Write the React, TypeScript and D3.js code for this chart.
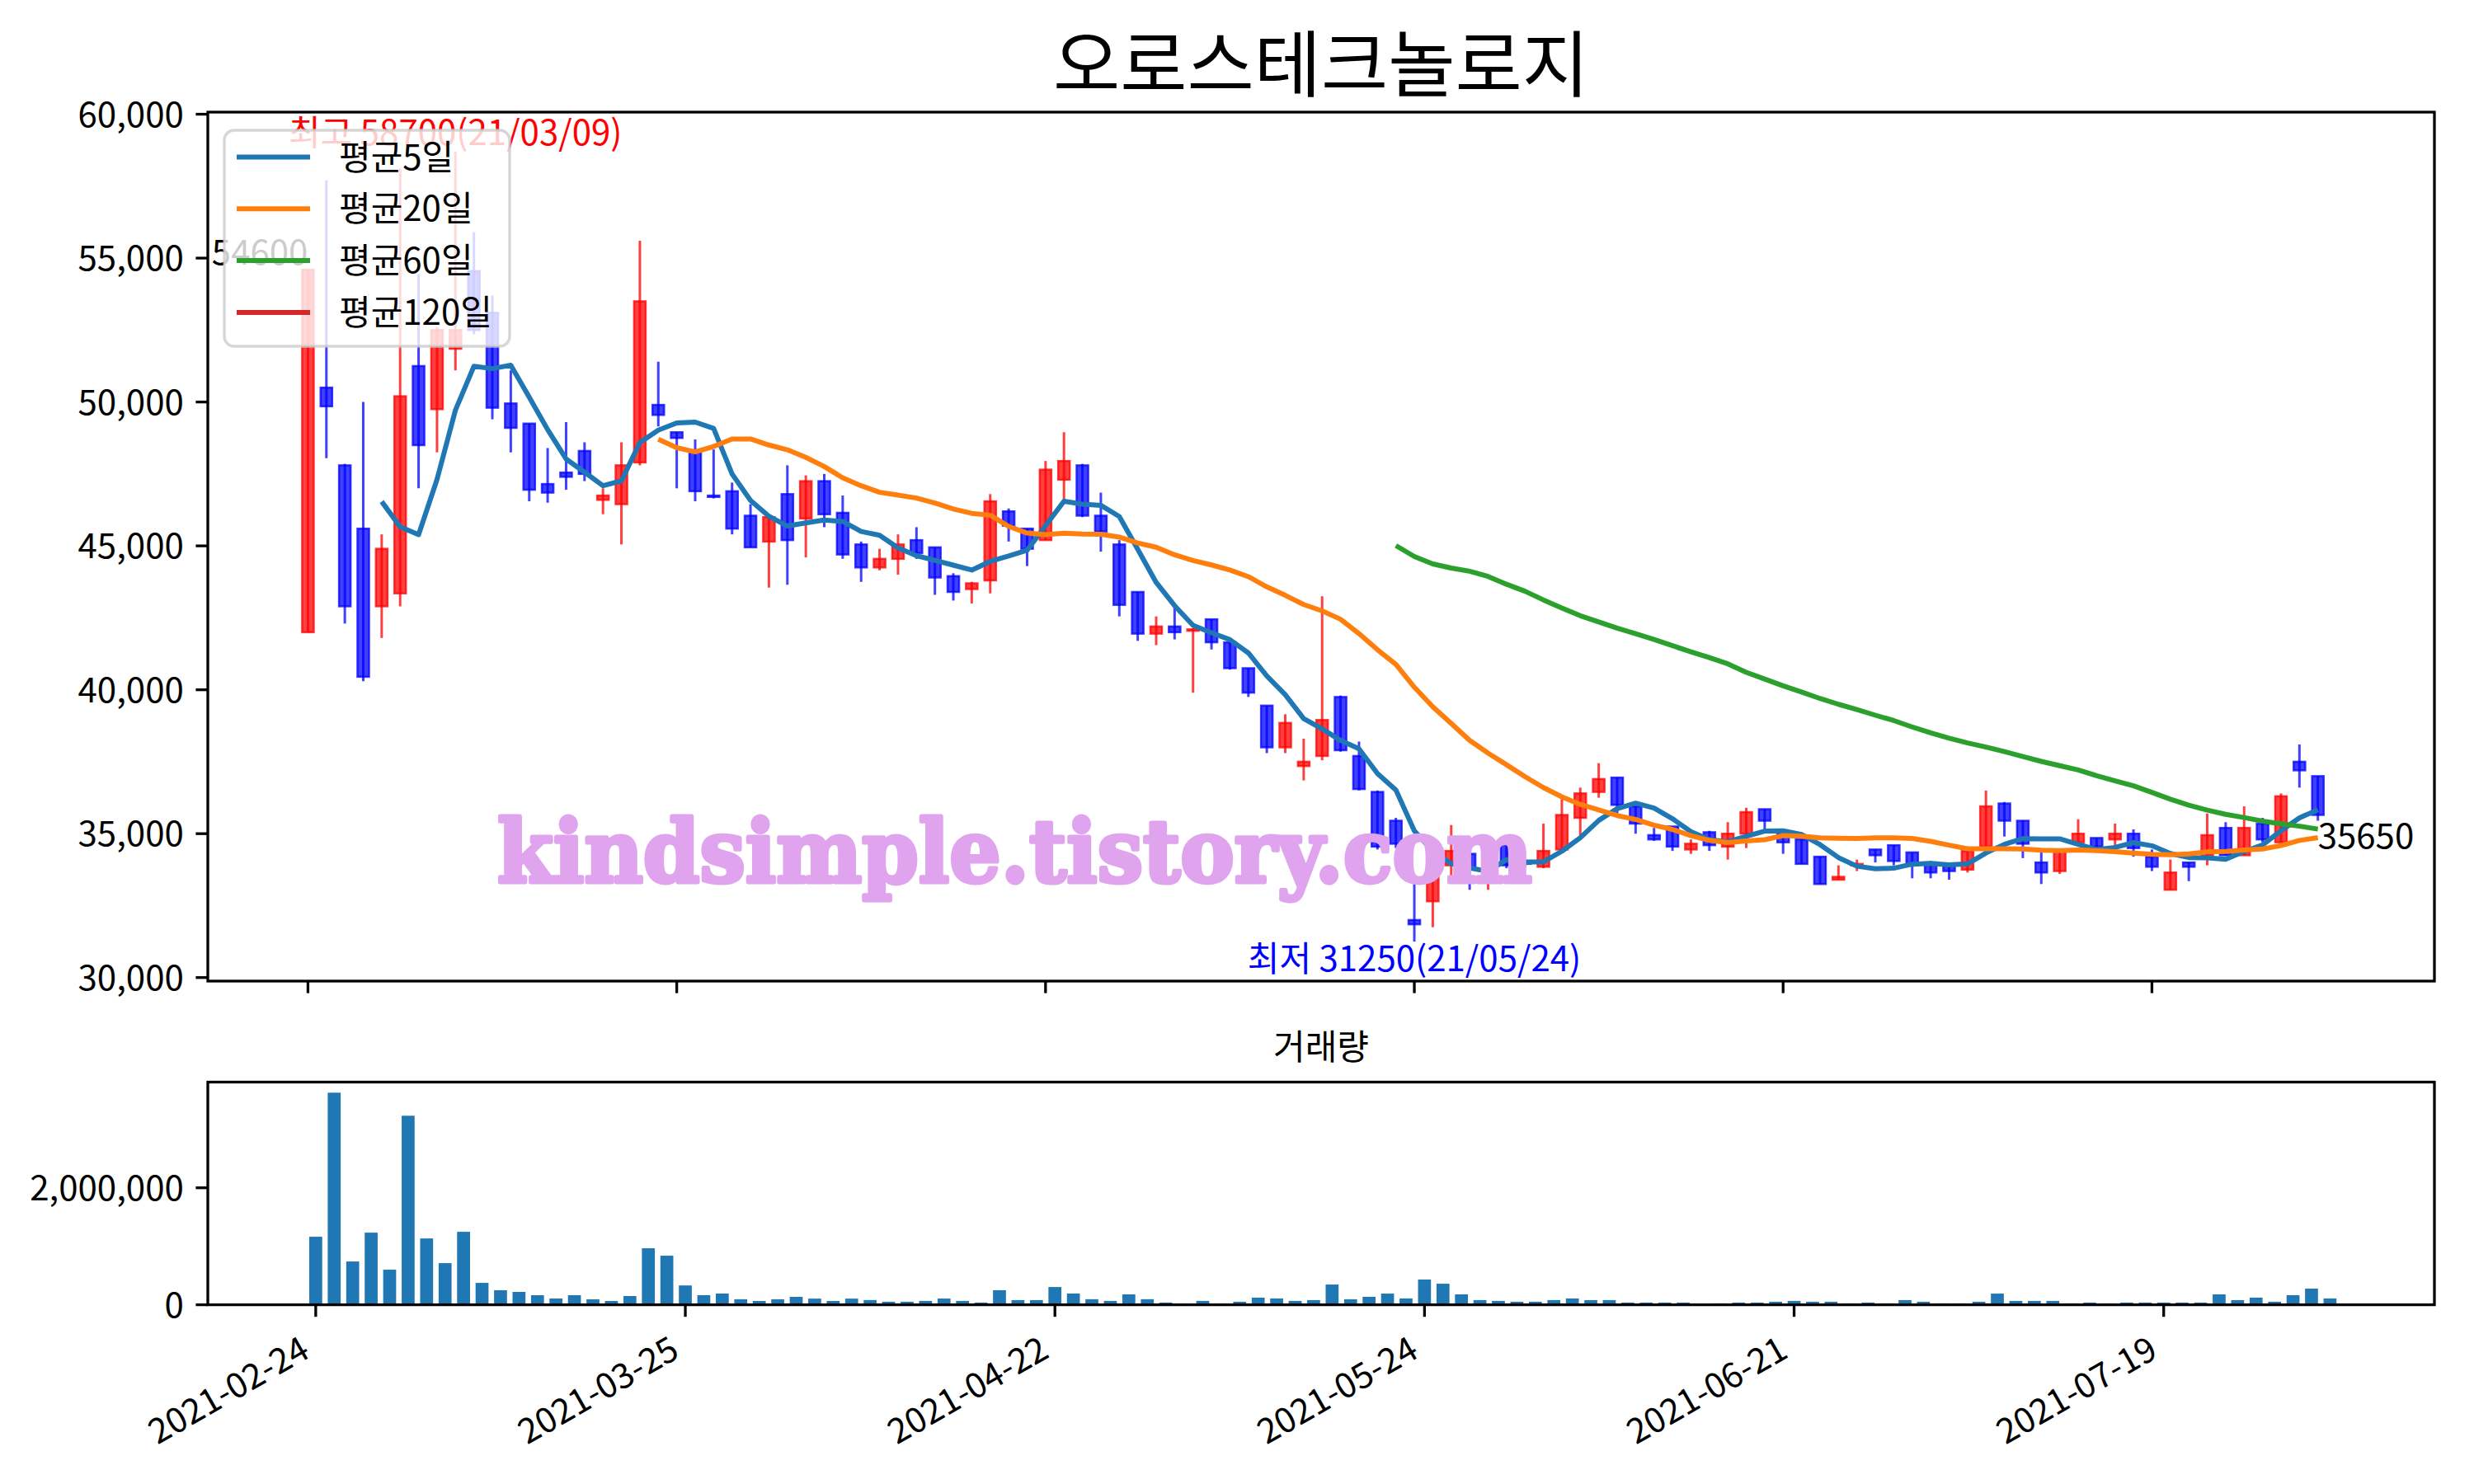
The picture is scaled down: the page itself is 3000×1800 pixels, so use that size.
import React from 'react';
import * as d3 from 'd3';

const title = '오로스테크놀로지';
const volumeTitle = '거래량';
const tickIndices = [0, 20, 40, 60, 80, 100];
const tickLabels = ['2021-02-24', '2021-03-25', '2021-04-22', '2021-05-24', '2021-06-21', '2021-07-19'];

const opens = [
  42000, 50500, 47800, 45600, 42900, 43350, 51250, 49750, 51850, 54550,
  53100, 49950, 49250, 47150, 47550, 48300, 46600, 46450, 47900, 49900,
  48950, 48250, 46750, 46900, 46050, 45150, 46800, 45950, 47250, 46150,
  45050, 44250, 44550, 45200, 44950, 43950, 43500, 43800, 46200, 45600,
  45200, 47300, 47800, 46050, 45050, 43400, 41950, 42200, 42050, 42450,
  41650, 40750, 39450, 38000, 37350, 37700, 39750, 37700, 36450, 35450,
  32000, 32650, 33900, 34300, 33700, 34650, 34000, 33850, 34450, 35550,
  36450, 36950, 35950, 34950, 35250, 34450, 35050, 34550, 35000, 35850,
  35000, 34800, 34200, 33400, 33900, 34450, 34600, 34350, 34000, 33900,
  33750, 34550, 36050, 35450, 34000, 33700, 34700, 34850, 34800, 35000,
  34200, 33050, 34000, 34250, 35200, 34250, 35350, 34700, 37500, 37000,
];
const highs = [
  54600, 57700, 47850, 50000, 45400, 58100, 54450, 52600, 58700, 55900,
  53700, 51100, 49250, 48400, 49300, 48600, 47000, 48600, 55600, 51400,
  48950, 48700, 48350, 47200, 46450, 46050, 47800, 47450, 47500, 46750,
  45150, 44900, 45400, 45650, 44950, 44050, 43750, 46800, 46300, 45600,
  47950, 48950, 47850, 46850, 45200, 43400, 42550, 42900, 42150, 42450,
  41650, 40750, 39450, 39150, 38300, 43250, 39800, 38200, 36500, 35550,
  33400, 34800, 35300, 34500, 34100, 34700, 34100, 35350, 36200, 36600,
  37450, 36950, 35950, 35200, 35250, 34800, 35100, 35400, 35900, 35850,
  35000, 34800, 34200, 33900, 34100, 34450, 34600, 34350, 34050, 33900,
  34450, 36500, 36100, 35450, 34350, 34400, 35500, 34850, 35350, 35150,
  34450, 34100, 34000, 35700, 35400, 35950, 35550, 36400, 38100, 37000,
];
const lows = [
  42000, 48050, 42300, 40300, 41800, 42900, 47000, 48250, 51100, 52350,
  49400, 48250, 46550, 46500, 46950, 47250, 46100, 45050, 47800, 49150,
  47000, 46550, 46650, 45400, 44950, 43550, 43650, 44600, 45650, 44550,
  43750, 44150, 44000, 44550, 43300, 43100, 43000, 43350, 45150, 44300,
  45200, 46600, 46000, 44800, 42550, 41700, 41550, 41750, 39900, 41400,
  40700, 39750, 37800, 37800, 36850, 37550, 37850, 36500, 34450, 34500,
  31250, 31750, 33500, 33050, 33050, 33800, 33850, 33800, 34450, 34850,
  36250, 35700, 35000, 34750, 34400, 34300, 34400, 34100, 34500, 35150,
  34300, 33950, 33250, 33400, 33700, 34000, 33900, 33450, 33450, 33400,
  33650, 34550, 34900, 34150, 33250, 33600, 34700, 34500, 34550, 34200,
  33700, 33050, 33350, 33900, 34250, 34250, 34700, 34700, 36600, 35450,
];
const closes = [
  54600, 49850, 42900, 40450, 44900, 50200, 48500, 52500, 52500, 52500,
  49800, 49100, 46950, 46850, 47400, 47500, 46750, 47800, 53500, 49550,
  48750, 46900, 46700, 45600, 44950, 46000, 45200, 47250, 46100, 44700,
  44250, 44550, 45050, 44750, 43900, 43400, 43700, 46550, 45700, 44900,
  47650, 47950, 46050, 45500, 42950, 41950, 42200, 42000, 42100, 41650,
  40750, 39900, 38000, 38850, 37500, 38950, 37900, 36550, 34550, 34650,
  31850, 34350, 34400, 33800, 34050, 33900, 33950, 34400, 35650, 36400,
  36900, 36000, 35350, 34800, 34550, 34650, 34600, 35000, 35750, 35450,
  34700, 33950, 33250, 33500, 33950, 34250, 34050, 33950, 33650, 33700,
  34400, 35950, 35450, 34650, 33650, 34400, 35000, 34550, 35000, 34500,
  33850, 33650, 33850, 34950, 34250, 35200, 34800, 36300, 37200, 35650,
];
const volumes = [
  1163000, 3626000, 740000, 1233000, 600000, 3232000, 1134000, 712000, 1247000, 374000,
  248000, 220000, 163000, 107000, 163000, 93000, 65000, 149000, 966000, 839000,
  330000, 164000, 192000, 94000, 65000, 94000, 135000, 105000, 65000, 105000,
  81000, 52000, 52000, 66000, 106000, 66000, 38000, 248000, 80000, 80000,
  303000, 192000, 95000, 66000, 178000, 95000, 38000, 23000, 66000, 23000,
  52000, 122000, 108000, 66000, 80000, 346000, 94000, 136000, 191000, 108000,
  431000, 360000, 178000, 80000, 66000, 52000, 52000, 80000, 108000, 80000,
  80000, 38000, 38000, 38000, 38000, 8000, 24000, 38000, 38000, 52000,
  66000, 52000, 52000, 24000, 38000, 24000, 80000, 52000, 24000, 24000,
  52000, 191000, 66000, 66000, 66000, 24000, 38000, 24000, 38000, 38000,
  38000, 38000, 38000, 178000, 80000, 122000, 52000, 164000, 276000, 108000,
];

const priceTicks = [30000, 35000, 40000, 45000, 50000, 55000, 60000];
const volumeTicks = [0, 2000000];

const maWindows = [5, 20, 60, 120];
const maLabels = ['평균5일', '평균20일', '평균60일', '평균120일'];
const maColors = ['#1f77b4', '#ff7f0e', '#2ca02c', '#d62728'];

const highNote = '최고 58700(21/03/09)';
const highIndex = 8;
const highValue = 58700;
const lowNote = '최저 31250(21/05/24)';
const lowIndex = 60;
const lowValue = 31250;
const firstCloseLabel = '54600';
const firstCloseValue = 54600;
const lastCloseLabel = '35650';
const lastCloseValue = 35650;
const watermark = 'kindsimple.tistory.com';

const FONT = '"Noto Sans CJK KR", "Noto Sans", sans-serif';

export default function App() {
  const L = 252;
  const R = 2952;
  const mainTop = 136;
  const mainBottom = 1190;
  const volTop = 1312.5;
  const volBottom = 1582.6;

  const x = d3.scaleLinear().domain([-5.43, 115.32]).range([L, R]);
  const y = d3.scaleLinear().domain([29877.5, 60072.5]).range([mainBottom, mainTop]);
  const xv = d3.scaleLinear().domain([-5.84, 114.65]).range([L, R]);
  const yv = d3.scaleLinear().domain([0, (d3.max(volumes) as number) * 1.05]).range([volBottom, volTop]);

  const bodyW = x(0.63) - x(0);
  const barW = xv(0.7) - xv(0);
  const fmt = d3.format(',');

  const maSeries = maWindows.map((w) => {
    const pts: { i: number; v: number }[] = [];
    for (let i = w - 1; i < closes.length; i++) {
      pts.push({ i, v: d3.mean(closes.slice(i - w + 1, i + 1)) as number });
    }
    return pts;
  });
  const line = d3
    .line<{ i: number; v: number }>()
    .x((d) => x(d.i))
    .y((d) => y(d.v));

  const tickLen = 14.6;
  const axisW = 3.3;

  return (
    <svg
      width={3000}
      height={1800}
      viewBox="0 0 3000 1800"
      style={{ position: 'absolute', left: 0, top: 0, background: '#fff', display: 'block' }}
      fontFamily={FONT}
    >
      <rect x={0} y={0} width={3000} height={1800} fill="#fff" />
      <text x={(L + R) / 2} y={110} fontSize={88} textAnchor="middle" fill="#000" textLength={650} lengthAdjust="spacingAndGlyphs">
        {title}
      </text>

      {/* candles */}
      <g>
        {opens.map((o, i) => {
          const c = closes[i];
          const col = c >= o ? '#ff0000' : '#0000ff';
          return (
            <line
              key={'w' + i}
              x1={x(i)}
              x2={x(i)}
              y1={y(highs[i])}
              y2={y(lows[i])}
              stroke={col}
              strokeOpacity={0.75}
              strokeWidth={3}
            />
          );
        })}
        {opens.map((o, i) => {
          const c = closes[i];
          const col = c >= o ? '#ff0000' : '#0000ff';
          const top = y(Math.max(o, c));
          const bot = y(Math.min(o, c));
          return (
            <rect
              key={'b' + i}
              x={x(i) - bodyW / 2}
              y={top}
              width={bodyW}
              height={Math.max(bot - top, 0.5)}
              fill={col}
              fillOpacity={0.75}
              stroke={col}
              strokeOpacity={0.75}
              strokeWidth={2.5}
            />
          );
        })}
      </g>

      {/* moving averages */}
      {maSeries.map((pts, k) =>
        pts.length > 1 ? (
          <path key={'ma' + k} d={line(pts) || ''} fill="none" stroke={maColors[k]} strokeWidth={6} strokeLinejoin="round" />
        ) : null
      )}

      {/* watermark */}
      <text
        x={603}
        y={1070}
        fontFamily='"DejaVu Serif", serif'
        fontWeight="bold"
        fontSize={104}
        fill="#e0a4ee"
        stroke="#e0a4ee"
        strokeWidth={5}
        strokeLinejoin="round"
        textLength={1255}
        lengthAdjust="spacingAndGlyphs"
      >
        {watermark}
      </text>

      {/* annotations */}
      <text x={x(highIndex)} y={y(highValue) - 8} fontSize={42} fill="#ff0000" textAnchor="middle">
        {highNote}
      </text>
      <text x={x(lowIndex)} y={y(lowValue) + 36} fontSize={42} fill="#0000ff" textAnchor="middle">
        {lowNote}
      </text>
      <text x={x(0)} y={y(firstCloseValue) - 6} fontSize={42} fill="#000" textAnchor="end">
        {firstCloseLabel}
      </text>
      <text x={x(closes.length - 1)} y={y(lastCloseValue) + 40} fontSize={42} fill="#000" textAnchor="start">
        {lastCloseLabel}
      </text>

      {/* main axes frame */}
      <rect x={L} y={mainTop} width={R - L} height={mainBottom - mainTop} fill="none" stroke="#000" strokeWidth={axisW} />
      {priceTicks.map((t) => (
        <g key={'pt' + t}>
          <line x1={L - tickLen} x2={L} y1={y(t)} y2={y(t)} stroke="#000" strokeWidth={axisW} />
          <text x={L - tickLen - 14.6} y={y(t) + 15} fontSize={42} textAnchor="end" fill="#000">
            {fmt(t)}
          </text>
        </g>
      ))}
      {tickIndices.map((t) => (
        <line key={'mx' + t} x1={x(t)} x2={x(t)} y1={mainBottom} y2={mainBottom + tickLen} stroke="#000" strokeWidth={axisW} />
      ))}

      {/* legend */}
      <g>
        <rect x={272} y={158} width={346} height={262} rx={12} fill="#fff" fillOpacity={0.8} stroke="#cccccc" strokeOpacity={0.8} strokeWidth={3.3} />
        {maLabels.map((lab, k) => {
          const ry = 190.5 + k * 62.8;
          return (
            <g key={'lg' + k}>
              <line x1={287} x2={376} y1={ry} y2={ry} stroke={maColors[k]} strokeWidth={6} />
              <text x={411} y={ry + 15} fontSize={42} fill="#000">
                {lab}
              </text>
            </g>
          );
        })}
      </g>

      {/* volume */}
      <text x={(L + R) / 2} y={1285} fontSize={42} textAnchor="middle" fill="#000">
        {volumeTitle}
      </text>
      {volumes.map((v, i) => (
        <rect key={'v' + i} x={xv(i) - barW / 2} y={yv(v)} width={barW} height={volBottom - yv(v)} fill="#1f77b4" />
      ))}
      <rect x={L} y={volTop} width={R - L} height={volBottom - volTop} fill="none" stroke="#000" strokeWidth={axisW} />
      {volumeTicks.map((t) => (
        <g key={'vt' + t}>
          <line x1={L - tickLen} x2={L} y1={yv(t)} y2={yv(t)} stroke="#000" strokeWidth={axisW} />
          <text x={L - tickLen - 14.6} y={yv(t) + 15} fontSize={42} textAnchor="end" fill="#000">
            {fmt(t)}
          </text>
        </g>
      ))}
      {tickIndices.map((t, k) => (
        <g key={'vx' + t}>
          <line x1={xv(t)} x2={xv(t)} y1={volBottom} y2={volBottom + tickLen} stroke="#000" strokeWidth={axisW} />
          <text
            transform={`translate(${xv(t) - 5},${1645}) rotate(-30)`}
            fontSize={42}
            textAnchor="end"
            fill="#000"
          >
            {tickLabels[k]}
          </text>
        </g>
      ))}
    </svg>
  );
}
